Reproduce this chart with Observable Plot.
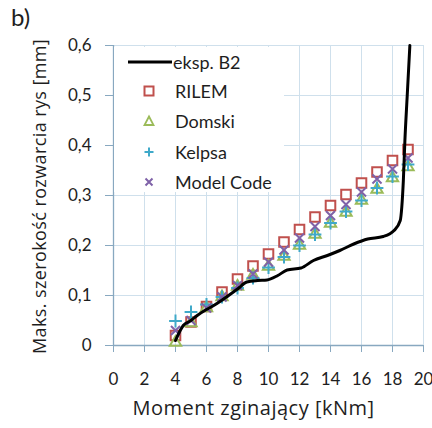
<!DOCTYPE html>
<html><head><meta charset="utf-8">
<script src="https://cdn.jsdelivr.net/npm/d3@7"></script>
<script src="https://cdn.jsdelivr.net/npm/@observablehq/plot@0.6"></script>
<style>
body{margin:0;background:#fff;}
#wrap{position:relative;width:432px;height:428px;font-family:Lato,"DejaVu Sans",sans-serif;color:#1e1e1e;}
#tag{position:absolute;left:11px;top:2px;font-size:24px;}
#legend{position:absolute;left:114px;top:47px;width:170px;height:145px;background:#fff;font-size:18px;}
.row{position:absolute;left:0;height:24px;display:flex;align-items:center;}
.row svg{display:block;}
</style></head><body>
<div id="wrap"><div id="tag">b)</div></div>
<script>
// --- data ---
const moment = [4,5,6,7,8,9,10,11,12,13,14,15,16,17,18,19];
const rilem = [0.02,0.047,0.078,0.107,0.133,0.159,0.183,0.207,0.232,0.257,0.28,0.302,0.325,0.347,0.37,0.392];
const domski = [0.006,0.045,0.075,0.097,0.118,0.14,0.158,0.178,0.2,0.222,0.244,0.266,0.29,0.312,0.335,0.357];
const kelpsa = [0.049,0.067,0.082,0.097,0.115,0.135,0.156,0.177,0.2,0.222,0.245,0.268,0.29,0.315,0.338,0.362];
const modelCode = [0.03,0.05,0.075,0.097,0.12,0.143,0.167,0.191,0.215,0.238,0.26,0.282,0.307,0.333,0.353,0.375];
const expM = [4.0,4.1,4.5,5.0,5.4,6.0,6.3,7.1,8.0,8.6,9.3,9.9,10.6,11.2,12.1,12.9,13.8,14.6,15.5,16.4,17.4,18.1,18.5,18.6,18.7,18.8,18.95,19.12];
const expW = [0.01,0.017,0.04,0.05,0.06,0.072,0.077,0.093,0.113,0.127,0.13,0.131,0.14,0.151,0.155,0.17,0.18,0.19,0.203,0.213,0.218,0.23,0.25,0.277,0.33,0.41,0.5,0.6];
const xTicks = [0,2,4,6,8,10,12,14,16,18,20];
const yTicks = [0,0.1,0.2,0.3,0.4,0.5,0.6];
const seriesNames = ["eksp. B2","RILEM","Domski","Kelpsa","Model Code"];
const xLabel = "Moment zginający [kNm]";
const yLabel = "Maks. szerokość rozwarcia rys [mm]";

const colors = {RILEM:"#c0504d", Domski:"#9bbb59", Kelpsa:"#3fa9c9", "Model Code":"#7f62a8"};
const axisColor = "#88a8c0", gridColor = "#cfe0ec";
const fmt = d => String(d).replace(".", ",");
const pts = (vals) => moment.map((m,i) => ({m, w: vals[i]}));
const exp = expM.map((m,i) => ({m, w: expW[i]}));

const chart = Plot.plot({
  width: 432, height: 428,
  marginLeft: 113, marginRight: 9, marginTop: 45, marginBottom: 83,
  style: {fontFamily: "Lato, sans-serif", color: "#1e1e1e", background: "transparent", overflow: "visible"},
  x: {domain: [0, 20]},
  y: {domain: [0, 0.6]},
  marks: [
    Plot.gridX(xTicks.slice(1), {stroke: gridColor, strokeOpacity: 1}),
    Plot.gridY(yTicks.slice(1), {stroke: gridColor, strokeOpacity: 1}),
    Plot.ruleX([0], {stroke: axisColor, strokeWidth: 1.3}),
    Plot.ruleY([0], {stroke: axisColor, strokeWidth: 1.3}),
    Plot.axisX(xTicks, {tickSize: 7, tickPadding: 20, stroke: axisColor, tickFormat: fmt, fontSize: 17, label: null}),
    Plot.axisY(yTicks, {tickSize: 8, tickPadding: 14, stroke: axisColor, tickFormat: fmt, fontSize: 17, label: null}),
    Plot.text([xLabel], {frameAnchor: "bottom", dy: 69, dx: -15, fontSize: 20, fontFamily: "Open Sans, sans-serif", text: d => d}),
    Plot.text([yLabel], {frameAnchor: "left", textAnchor: "middle", dx: -73, dy: 1, rotate: -90, fontSize: 18, fontFamily: "Open Sans, sans-serif", text: d => d}),
    Plot.dot(pts(rilem), {x: "m", y: "w", symbol: "square", r: 5.4, stroke: colors.RILEM, strokeWidth: 2, fill: "#fff"}),
    Plot.dot(pts(domski), {x: "m", y: "w", symbol: "triangle", r: 4.2, stroke: colors.Domski, strokeWidth: 2, fill: "none"}),
    Plot.dot(pts(kelpsa), {x: "m", y: "w", symbol: "plus", r: 4.2, stroke: colors.Kelpsa, strokeWidth: 2}),
    Plot.dot(pts(modelCode), {x: "m", y: "w", symbol: "times", r: 4.2, stroke: colors["Model Code"], strokeWidth: 2}),
    Plot.line(exp, {x: "m", y: "w", stroke: "#000", strokeWidth: 3, curve: "monotone-x"})
  ]
});
d3.select(chart).selectAll("text")
  .filter(function() { return this.textContent === xLabel; })
  .attr("letter-spacing", "0.5px");
d3.select(chart).selectAll("text")
  .filter(function() { return this.textContent === yLabel; })
  .attr("letter-spacing", "0.4px");
const wrap = document.getElementById("wrap");
wrap.insertBefore(chart, wrap.firstChild);
chart.style.position = "absolute"; chart.style.left = "0"; chart.style.top = "0";

// legend
const legend = document.createElement("div");
legend.id = "legend";
const symbols = {
  "RILEM": `<rect x="9.5" y="7.5" width="9" height="9" fill="#fff" stroke="${colors.RILEM}" stroke-width="2"/>`,
  "Domski": `<path d="M14,7.5 L18.5,16 L9.5,16 Z" fill="none" stroke="${colors.Domski}" stroke-width="1.8"/>`,
  "Kelpsa": `<path d="M14,7.5 V16.5 M9.5,12 H18.5" stroke="${colors.Kelpsa}" stroke-width="2"/>`,
  "Model Code": `<path d="M10.5,8.5 L17.5,15.5 M17.5,8.5 L10.5,15.5" stroke="${colors["Model Code"]}" stroke-width="2"/>`
};
const rowsTop = [3, 32, 62, 93, 123];
seriesNames.forEach((name, i) => {
  const row = document.createElement("div");
  row.className = "row";
  row.style.top = rowsTop[i] + "px";
  if (i === 0) {
    row.style.left = "14px";
    row.innerHTML = `<svg width="44" height="24"><line x1="0" x2="44" y1="12" y2="12" stroke="#000" stroke-width="3"/></svg><span style="margin-left:1px">${name}</span>`;
  } else {
    row.style.left = "21px";
    row.innerHTML = `<svg width="28" height="24">${symbols[name]}</svg><span style="margin-left:12px">${name}</span>`;
  }
  legend.appendChild(row);
});
wrap.appendChild(legend);
</script>
</body></html>
